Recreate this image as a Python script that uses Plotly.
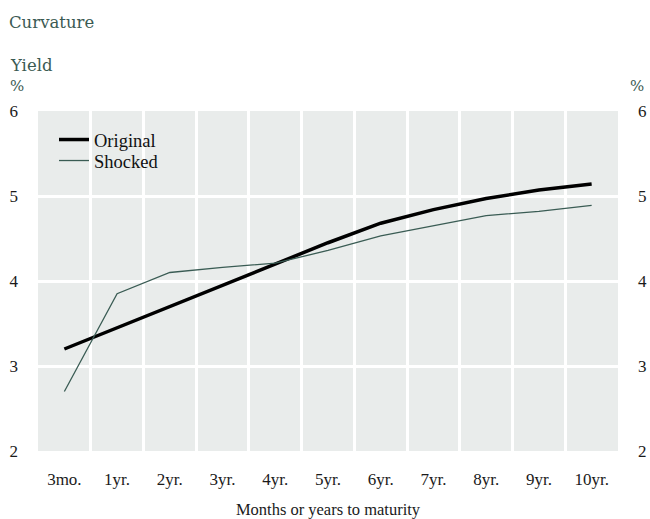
import plotly.graph_objects as go

maturities = ["3mo.", "1yr.", "2yr.", "3yr.", "4yr.", "5yr.", "6yr.", "7yr.", "8yr.", "9yr.", "10yr."]
original = [3.20, 3.45, 3.70, 3.95, 4.21, 4.45, 4.68, 4.84, 4.97, 5.07, 5.14]
shocked = [2.70, 3.85, 4.10, 4.16, 4.21, 4.36, 4.53, 4.65, 4.77, 4.82, 4.89]

W, H = 650, 519
L, R, T, B = 38, 32, 111, 68
pw, ph = W - L - R, H - T - B

def px_x(x):  # page pixel -> paper coord
    return (x - L) / pw

def px_y(y):
    return (H - B - y) / ph

serif = "Liberation Serif"
title_font = "DejaVu Serif"
green = "#3b5a53"

fig = go.Figure()
fig.add_trace(go.Scatter(x=maturities, y=original, name="Original", mode="lines",
                         line=dict(color="#000000", width=3.5), legend="legend"))
fig.add_trace(go.Scatter(x=maturities, y=shocked, name="Shocked", mode="lines",
                         line=dict(color="#3a5c54", width=1.3), legend="legend2"))
# invisible trace to drive right axis
fig.add_trace(go.Scatter(x=maturities, y=original, yaxis="y2", showlegend=False,
                         mode="lines", line=dict(width=0), hoverinfo="skip", opacity=0))

leg_common = dict(xanchor="left", yanchor="middle", bgcolor="rgba(0,0,0,0)",
                  font=dict(family=serif, size=18.5, color="#111111"))

fig.update_layout(
    width=W, height=H,
    margin=dict(l=L, r=R, t=T, b=B, autoexpand=False),
    paper_bgcolor="white",
    plot_bgcolor="#e9eceb",
    font=dict(family=serif, size=17, color="#1a1a1a"),
    title=dict(text="Curvature", x=9 / W, xref="container", xanchor="left",
               y=1 - 22 / H, yref="container", yanchor="middle",
               font=dict(family=title_font, size=16.5, color=green)),
    xaxis=dict(type="category", tickson="boundaries", showgrid=True, gridcolor="white",
               gridwidth=3, showline=False, zeroline=False, ticks="", automargin=False,
               ticklabelstandoff=16, tickfont=dict(size=17),
               title=dict(text="Months or years to maturity", standoff=16,
                          font=dict(size=16.5)),
               range=[-0.5, 10.5]),
    yaxis=dict(range=[2, 6], dtick=1, showgrid=True, gridcolor="white", gridwidth=3,
               zeroline=False, showline=False, ticks="", ticklabelstandoff=19,
               automargin=False, tickfont=dict(size=17)),
    yaxis2=dict(range=[2, 6], dtick=1, overlaying="y", side="right", showgrid=False,
                zeroline=False, showline=False, ticks="", ticklabelstandoff=19,
                automargin=False, tickfont=dict(size=17)),
    legend=dict(x=px_x(54), y=px_y(140), **leg_common),
    legend2=dict(x=px_x(54), y=px_y(161), **leg_common),
    showlegend=True,
)

fig.add_annotation(text="Yield", xref="paper", yref="paper", x=px_x(8), y=px_y(65),
                   xanchor="left", yanchor="middle", showarrow=False,
                   font=dict(family=title_font, size=16.5, color=green))
fig.add_annotation(text="%", xref="paper", yref="paper", x=px_x(8), y=px_y(86),
                   xanchor="left", yanchor="middle", showarrow=False,
                   font=dict(family=title_font, size=15, color=green))
fig.add_annotation(text="%", xref="paper", yref="paper", x=px_x(646), y=px_y(86),
                   xanchor="right", yanchor="middle", showarrow=False,
                   font=dict(family=title_font, size=15, color=green))

fig.write_html(
    "out.html",
    config={"displayModeBar": False},
    post_script="document.body.style.margin='0';document.body.style.overflow='hidden';",
)
